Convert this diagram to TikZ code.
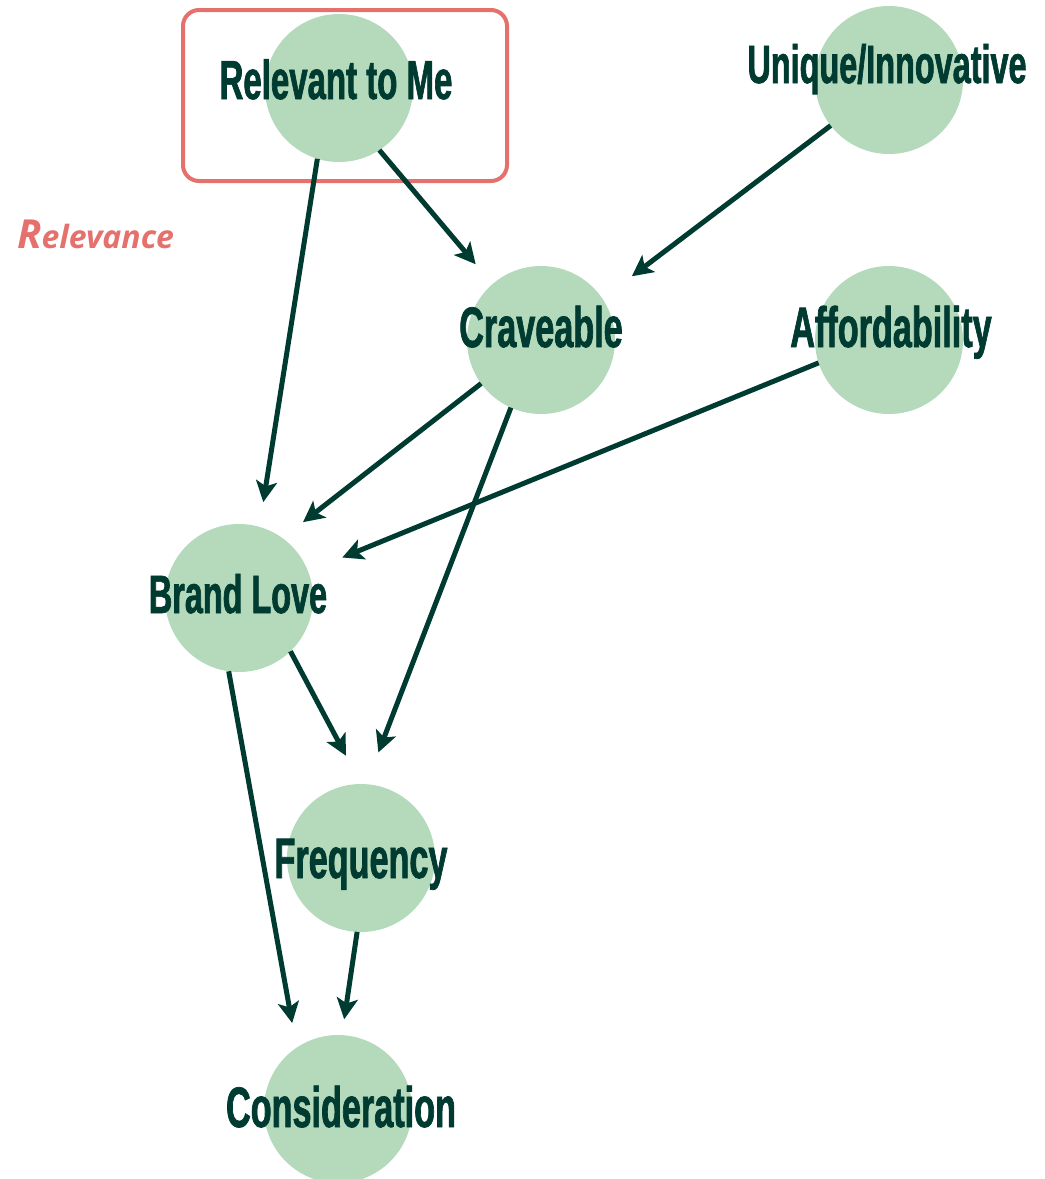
\documentclass[tikz,border=0pt]{standalone}
\usepackage{fontspec}
\usetikzlibrary{arrows.meta}
\newfontfamily\labelfont[FakeStretch=0.6, FakeBold=1.2]{Liberation Sans Bold}
\newfontfamily\tagfont{Open Sans}
\definecolor{ink}{HTML}{003B31}
\definecolor{bubblefill}{HTML}{B4D9BB}
\definecolor{coral}{HTML}{E5716D}
\tikzset{
  bubble/.style={circle, fill=bubblefill, minimum size=148pt, inner sep=0pt, outer sep=0pt},
  lbl/.style={anchor=base, text=ink, inner sep=0pt, font=\labelfont\fontsize{57}{60}\selectfont},
  link/.style={draw=ink, line width=5pt, -{Stealth[length=21pt,width=21pt,inset=5pt]}}
}
\begin{document}
\begin{tikzpicture}[x=1pt, y=-1pt]
\useasboundingbox (0,0) rectangle (1045,1179);

% highlight frame around the first factor
\draw[coral, line width=4pt, rounded corners=16pt] (183,10) rectangle (507,181);
\node[anchor=base west, text=coral, inner sep=0pt, font=\tagfont\bfseries\itshape\fontsize{32}{34}\selectfont]
  (tag) at (17,248) {{\fontsize{40}{40}\selectfont R}elevance};

% factor bubbles
\node[bubble] (rel) at (339,88) {};
\node[bubble] (uni) at (889,80) {};
\node[bubble] (crv) at (541,340) {};
\node[bubble] (aff) at (889,340) {};
\node[bubble] (bl)  at (239,598) {};
\node[bubble] (frq) at (361,858) {};
\node[bubble] (con) at (338,1109) {};

% connectors
\draw[link, shorten >=25pt] (rel.253) -- (bl.74);
\draw[link, shorten >=26pt] (rel.303.5) -- (crv.131);
\draw[link, shorten >=37pt] (uni.218) -- (crv.34);
\draw[link, shorten >=26pt] (crv.216.3) -- (bl.54);
\draw[link, shorten >=34pt] (crv.246.9) -- (frq.86.5);
\draw[link, shorten >=37pt] (aff.198.7) -- (bl.21.5);
\draw[link, shorten >=32pt] (bl.314) -- (frq.90);
\draw[link, shorten >=25pt] (bl.262.4) -- (con.124);
\draw[link, shorten >=16pt] (frq.267.7) -- (con.87.4);

% labels
\node[lbl, font=\labelfont\fontsize{55}{58}\selectfont] (relT) at (336,99) {Relevant to Me};
\node[lbl, font=\labelfont\fontsize{54}{56}\selectfont] (uniT) at (887,83) {Unique/Innovative};
\node[lbl] (crvT) at (541,347) {Craveable};
\node[lbl] (affT) at (891,347) {Affordability};
\node[lbl, font=\labelfont\fontsize{54}{56}\selectfont] (blT)  at (238,613) {Brand Love};
\node[lbl] (frqT) at (361,878) {Frequency};
\node[lbl] (conT) at (341,1127) {Consideration};
\end{tikzpicture}
\end{document}
